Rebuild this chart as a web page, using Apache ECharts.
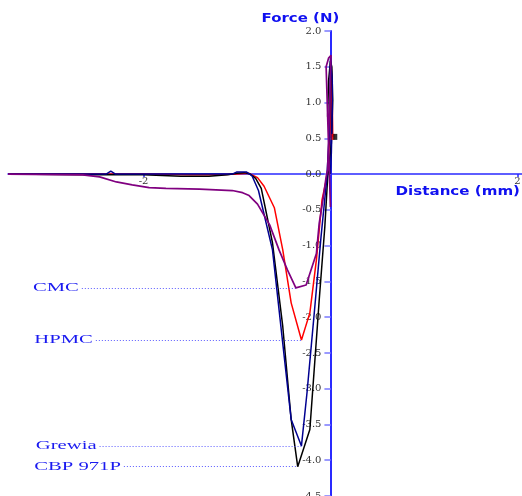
<!DOCTYPE html>
<html>
<head>
<meta charset="utf-8">
<script src="https://cdn.jsdelivr.net/npm/echarts@6/dist/echarts.min.js"></script>
<style>
html,body{margin:0;padding:0;background:#fff;}
#chart{width:522px;height:496px;}
</style>
</head>
<body>
<div id="chart"></div>
<script>
// ---- data (distance in mm, force in N) ----
var cbpData = [[-3.45,0],[-2.6,-0.01],[-2.0,-0.01],[-1.6,-0.03],[-1.3,-0.03],[-1.1,-0.01],[-1.0,0.01],[-0.92,0.02],[-0.86,0.0],[-0.8,-0.06],[-0.74,-0.2],[-0.62,-0.96],[-0.51,-2.13],[-0.42,-3.43],[-0.35,-4.09],[-0.22,-3.57],[-0.14,-2.13],[-0.12,-1.76],[-0.06,-0.74],[-0.03,-0.06],[0.01,0.43],[0.025,1.03],[0.015,1.5],[0.0,1.58],[-0.02,1.3],[-0.03,0.8]];
var hpmcData = [[-3.45,0],[-2.0,0],[-1.5,-0.01],[-1.2,-0.01],[-1.0,0.0],[-0.87,0.01],[-0.78,-0.05],[-0.71,-0.17],[-0.6,-0.47],[-0.51,-1.06],[-0.42,-1.8],[-0.31,-2.32],[-0.22,-1.94],[-0.15,-1.2],[-0.09,-0.36],[-0.03,0.01],[0.0,0.7],[0.01,1.5],[0.02,1.0],[0.025,0.52]];
var grewiaData = [[-3.45,0],[-2.4,0],[-2.35,0.04],[-2.3,0],[-1.5,0],[-1.05,0.0],[-1.0,0.03],[-0.9,0.03],[-0.84,-0.02],[-0.77,-0.23],[-0.62,-1.06],[-0.53,-2.13],[-0.42,-3.43],[-0.31,-3.8],[-0.25,-3.05],[-0.17,-1.9],[-0.1,-0.87],[-0.04,-0.08],[-0.01,0.6],[0.0,1.62],[0.02,1.3],[0.02,0.9],[0.01,0.3],[0.0,0.0]];
var cmcData = [[-3.45,0],[-2.65,-0.01],[-2.47,-0.04],[-2.29,-0.11],[-2.12,-0.15],[-1.94,-0.19],[-1.76,-0.2],[-1.4,-0.21],[-1.05,-0.23],[-0.94,-0.26],[-0.87,-0.3],[-0.78,-0.42],[-0.65,-0.71],[-0.55,-1.06],[-0.46,-1.34],[-0.37,-1.59],[-0.26,-1.55],[-0.15,-1.11],[-0.12,-0.69],[-0.08,-0.36],[-0.046,-0.04],[-0.03,0.06],[0.007,1.66],[-0.02,1.62],[-0.046,1.5],[0.0,-0.46]];

var seriesNames = ['HPMC','CBP 971P','Grewia','CMC'];
var seriesColors = ['#ff0000','#000000','#000090','#800080'];

// annotation labels (text, force level, dotted line start and end distance)
var annoNames = ['CMC','HPMC','Grewia','CBP 971P'];
var annoY = [-1.59,-2.32,-3.80,-4.09];
var annoStartX = [-2.66,-2.51,-2.47,-2.21];
var annoEndX = [-0.37,-0.31,-0.31,-0.35];

// small marker near 0.5 N
var markRed = [[0.027,0.52]];
var markBlack = [[0.052,0.52]];

// axes
var xTitle = 'Distance (mm)';
var yTitle = 'Force (N)';
var xTickValues = [-2,2];
var xMin = -3.45, xMax = 2.05;
var yMin = -4.5, yMax = 2.0, yStep = 0.5;

var chart = echarts.init(document.getElementById('chart'));

var datasets = [hpmcData, cbpData, grewiaData, cmcData];
var series = datasets.map(function(d,i){
  return {
    name: seriesNames[i], type:'line', data:d, showSymbol:false, symbol:'none',
    lineStyle:{color:seriesColors[i], width: i===3 ? 1.7 : 1.5},
    itemStyle:{color:seriesColors[i]},
    animation:false, z: 3+i
  };
});
series.push({
  type:'line', data:[], silent:true, animation:false, z:2,
  markLine:{
    silent:true, symbol:['none','none'], animation:false,
    lineStyle:{color:'#5a5aff', type:[1,2], width:1},
    label:{show:false},
    data: annoNames.map(function(n,i){
      return [{coord:[annoStartX[i],annoY[i]]},{coord:[annoEndX[i],annoY[i]]}];
    })
  }
});
series.push({type:'scatter', data:markRed, symbol:'rect', symbolSize:[3,6], itemStyle:{color:'#ff0000'}, animation:false, z:10});
series.push({type:'scatter', data:markBlack, symbol:'rect', symbolSize:[4,6], itemStyle:{color:'#000000'}, animation:false, z:10});

chart.setOption({
  animation:false,
  grid:{left:8, right:0, top:31, bottom:0, containLabel:false, outerBoundsMode:'none'},
  xAxis:{
    type:'value', min:xMin, max:xMax, position:'bottom', offset:0,
    axisLine:{onZero:false, lineStyle:{color:'#2a2aff', width:1.5}},
    axisTick:{show:true, customValues:xTickValues, length:3, lineStyle:{color:'#2a2aff', width:1.5}},
    axisLabel:{customValues:xTickValues, margin:2, color:'#333', fontFamily:'DejaVu Serif', fontSize:10},
    splitLine:{show:false}
  },
  yAxis:{
    type:'value', min:yMin, max:yMax, interval:yStep, position:'left', offset:0,
    axisLine:{onZero:false, lineStyle:{color:'#2a2aff', width:2}},
    axisTick:{show:true, length:6, lineStyle:{color:'#9a9aff', width:2}},
    axisLabel:{margin:9, color:'#333', fontFamily:'DejaVu Serif', fontSize:10, formatter:function(v){return v.toFixed(1);}},
    splitLine:{show:false}
  },
  series: series
});

// move both axes so they cross at the origin (via the chart's own scales)
var origin = chart.convertToPixel({gridIndex:0}, [0, 0]);
var corner = chart.convertToPixel({gridIndex:0}, [xMin, yMin]);
var topEnd = chart.convertToPixel({gridIndex:0}, [0, yMax]);
var rightEnd = chart.convertToPixel({gridIndex:0}, [xMax, 0]);
chart.setOption({
  xAxis:{offset: -(corner[1] - origin[1])},
  yAxis:{offset: -(origin[0] - corner[0])}
});

// annotation texts and axis titles
var graphics = annoNames.map(function(n,i){
  var p = chart.convertToPixel({gridIndex:0}, [annoStartX[i], annoY[i]]);
  return {
    type:'text', x:p[0]-3, y:p[1], scaleX:1.72, scaleY:1, silent:true,
    style:{text:n, fill:'#1a1af0', font:'12px "Liberation Serif"', align:'right', verticalAlign:'middle'}
  };
});
graphics.push({
  type:'text', x:topEnd[0]-30, y:topEnd[1]-12, scaleX:1.15, silent:true,
  style:{text:yTitle, fill:'#1010f0', font:'bold 13px "DejaVu Sans"', align:'center', verticalAlign:'middle'}
});
graphics.push({
  type:'text', x:rightEnd[0]-2, y:rightEnd[1]+18, scaleX:1.16, silent:true,
  style:{text:xTitle, fill:'#1010f0', font:'bold 13px "DejaVu Sans"', align:'right', verticalAlign:'middle'}
});
chart.setOption({graphic:graphics});
</script>
</body>
</html>
